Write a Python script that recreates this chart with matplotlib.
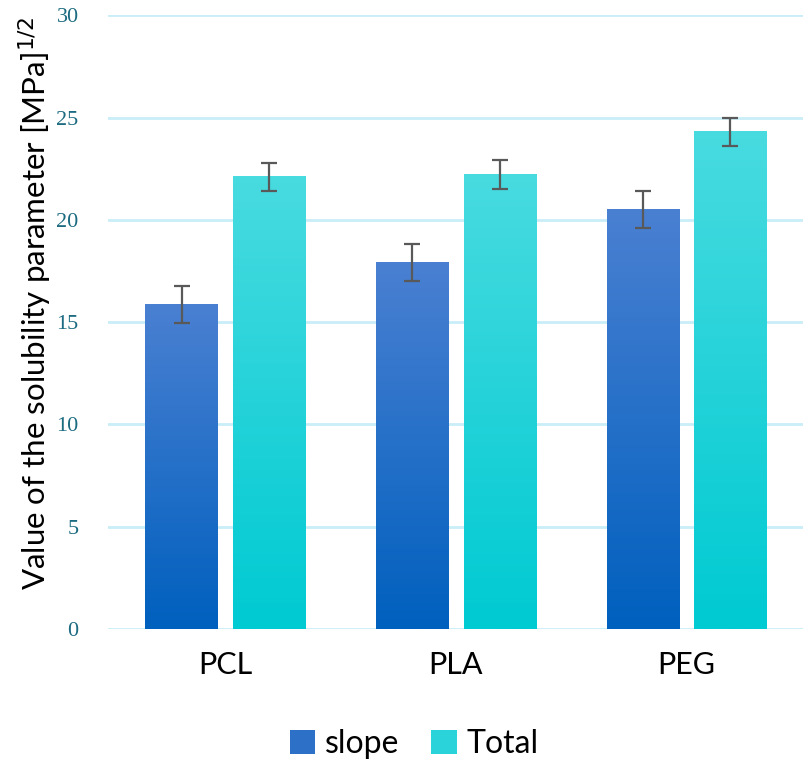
import numpy as np
import matplotlib
matplotlib.use("Agg")
import matplotlib.pyplot as plt
from matplotlib.colors import LinearSegmentedColormap
from matplotlib.patches import Patch

categories = ["PCL", "PLA", "PEG"]
slope = [15.85, 17.9, 20.5]
slope_err = [0.9, 0.9, 0.9]
total = [22.1, 22.2, 24.3]
total_err = [0.7, 0.7, 0.7]
yticks = [0, 5, 10, 15, 20, 25, 30]

fig = plt.figure(figsize=(8.04, 7.61), dpi=100)
ax = fig.add_axes([0.134, 0.1735, 0.866, 0.8065])

x = np.arange(len(categories))
w = 0.313
off = 0.19

slope_cm = LinearSegmentedColormap.from_list("s", ["#0060be", "#4a80d2"])
total_cm = LinearSegmentedColormap.from_list("t", ["#00cad2", "#48dbe0"])
grad = np.linspace(0, 1, 256).reshape(-1, 1)

def gradient_bars(xs, heights, cmap):
    for xi, h in zip(xs, heights):
        ax.imshow(grad, cmap=cmap, origin="lower", aspect="auto",
                  extent=(xi - w / 2, xi + w / 2, 0, h), zorder=2)

gradient_bars(x - off, slope, slope_cm)
gradient_bars(x + off, total, total_cm)

ax.errorbar(x - off, slope, yerr=slope_err, fmt="none", ecolor="#595959",
            elinewidth=1.6, capsize=6, capthick=1.6, zorder=3)
ax.errorbar(x + off, total, yerr=total_err, fmt="none", ecolor="#595959",
            elinewidth=1.6, capsize=6, capthick=1.6, zorder=3)

ax.set_xlim(-0.51, 2.51)
ax.set_ylim(0, 30)
ax.set_yticks(yticks)
ax.set_yticklabels([str(t) for t in yticks], family="Liberation Serif",
                   fontsize=16, color="#1c6b80")
ax.set_xticks(x)
ax.set_xticklabels(categories, family="Lato", fontsize=22, color="black")
ax.tick_params(axis="both", length=0)
ax.tick_params(axis="y", pad=21)
ax.tick_params(axis="x", pad=16)
ax.yaxis.grid(True, color="#c9eef8", linewidth=2)
ax.set_axisbelow(True)
for s in ax.spines.values():
    s.set_visible(False)

ax.set_ylabel("Value of the solubility parameter [MPa]$^{1/2}$", family="Lato",
              fontsize=22.5)
ax.yaxis.set_label_coords(-0.077, 0.53)

handles = [Patch(facecolor="#2d70c8", label="slope"),
           Patch(facecolor="#2ad2da", label="Total")]
leg = fig.legend(handles=handles, loc="center", bbox_to_anchor=(0.515, 0.022),
                 ncol=2, frameon=False, prop={"family": "Lato", "size": 23},
                 handlelength=0.8, handleheight=0.8, handletextpad=0.3,
                 columnspacing=1.0)

fig.savefig("out.png", dpi=100)
